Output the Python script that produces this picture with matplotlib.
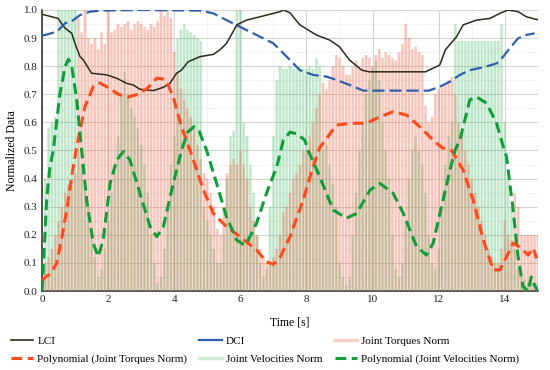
import matplotlib
matplotlib.use("Agg")
import numpy as np
import matplotlib.pyplot as plt
from matplotlib.lines import Line2D
from matplotlib.ticker import MultipleLocator, FormatStrFormatter

plt.rcParams["font.family"] = ["Liberation Serif", "DejaVu Serif"]

# ---- data ----
bar_t = np.round(np.arange(0, 151) * 0.1, 1)

torque_norm = [
    0.05, 0.10, 0.12, 0.15, 0.20, 0.25, 0.30, 0.35, 0.38, 0.40, 0.42,
    0.97, 0.92, 1.00, 0.90, 0.88, 0.90, 0.86, 0.92, 0.88, 1.00,
    0.92, 0.93, 0.95, 0.94, 0.95, 0.96, 0.93, 0.95, 0.96, 0.95,
    0.94, 0.93, 0.95, 0.94, 0.96, 1.00, 0.98, 1.00, 0.97, 0.85,
    0.78, 0.72, 0.68, 0.65, 0.62, 0.58, 0.52, 0.47, 0.42, 0.40,
    0.35, 0.30, 0.22, 0.20, 0.30, 0.42, 0.45, 0.47, 0.45, 0.50,
    0.45, 0.40, 0.30, 0.25, 0.20, 0.15, 0.12, 0.10, 0.10, 0.12,
    0.15, 0.20, 0.28, 0.30, 0.35, 0.40, 0.42, 0.45, 0.50, 0.50,
    0.55, 0.60, 0.65, 0.70, 0.74, 0.72, 0.75, 0.80, 0.84, 0.83,
    0.80, 0.77, 0.77, 0.80, 0.82, 0.80, 0.83, 0.84, 0.83, 0.80,
    0.84, 0.86, 0.83, 0.85, 0.84, 0.83, 0.82, 0.85, 0.88, 0.95,
    0.90, 0.86, 0.87, 0.85, 0.84, 0.66, 0.60, 0.62, 0.70, 0.72,
    0.73, 0.74, 0.75, 0.76, 0.70, 0.60, 0.55, 0.50, 0.45, 0.40,
    0.35, 0.30, 0.25, 0.20, 0.15, 0.12, 0.10, 0.10, 0.15, 0.25,
    0.20, 0.18, 0.35, 0.30, 0.20, 0.20, 0.20, 0.20, 0.20, 0.20,
]

velocity_norm = [
    0.05, 0.40, 0.58, 0.60, 0.62, 1.00, 1.00, 1.00, 1.00, 1.00, 1.00,
    0.50, 0.45, 0.38, 0.30, 0.20, 0.12, 0.05, 0.08, 0.15, 0.25,
    0.35, 0.45, 0.55, 0.70, 0.78, 0.70, 0.65, 0.62, 0.58, 0.52,
    0.45, 0.35, 0.20, 0.10, 0.03, 0.05, 0.15, 0.30, 0.45, 0.55,
    0.90, 0.93, 0.95, 0.93, 0.92, 0.91, 0.90, 0.89, 0.30, 0.25,
    0.20, 0.15, 0.10, 0.10, 0.20, 0.40, 0.55, 0.57, 1.00, 1.00,
    0.60, 0.55, 0.45, 0.35, 0.20, 0.10, 0.05, 0.08, 0.30, 0.55,
    0.75, 0.80, 0.79, 0.79, 0.80, 0.79, 0.79, 0.80, 0.79, 0.79,
    0.80, 0.79, 0.83, 0.80, 0.50, 0.52, 0.45, 0.38, 0.30, 0.10,
    0.05, 0.02, 0.05, 0.20, 0.35, 0.50, 0.60, 0.70, 0.75, 0.80,
    0.82, 0.75, 0.60, 0.50, 0.40, 0.20, 0.08, 0.05, 0.10, 0.25,
    0.40, 0.50, 0.55, 0.50, 0.45, 0.35, 0.20, 0.10, 0.08, 0.15,
    0.30, 0.45, 0.55, 0.60, 0.95, 0.89, 0.89, 0.89, 0.89, 0.89,
    0.89, 0.89, 0.89, 0.89, 0.89, 0.89, 0.89, 0.89, 0.95, 0.60,
    0.40, 0.30, 0.15, 0.08, 0.05, 0.04, 0.03, 0.03, 0.03, 0.03,
]

lci_t = [0, 0.09, 0.49, 0.6, 0.7, 0.9, 1.0, 1.15, 1.25, 1.5, 1.96, 2.26, 2.56, 2.76,
         2.96, 3.37, 3.67, 3.87, 4.07, 4.22, 4.42, 4.78, 5.18, 5.38, 5.58, 5.78, 5.89,
         6.19, 6.8, 7.2, 7.3, 7.5, 7.8, 8.3, 8.7, 9.0, 9.3, 9.67, 9.9, 11.6, 12.03,
         12.2, 12.54, 12.74, 13.14, 13.55, 13.85, 14.1, 14.4, 14.65, 14.9, 15.0]
lci = [0.985, 0.982, 0.97, 0.95, 0.935, 0.917, 0.88, 0.834, 0.822, 0.775, 0.769, 0.757,
       0.739, 0.733, 0.718, 0.713, 0.725, 0.739, 0.775, 0.786, 0.816, 0.834, 0.842,
       0.858, 0.881, 0.923, 0.947, 0.964, 0.982, 0.994, 1.0, 0.99, 0.947, 0.911, 0.893,
       0.869, 0.822, 0.786, 0.78, 0.78, 0.804, 0.858, 0.905, 0.947, 0.964, 0.97, 0.988,
       1.0, 0.994, 0.976, 0.968, 0.965]

dci_t = [0, 0.09, 0.45, 0.7, 0.9, 1.15, 1.45, 1.8, 3.0, 4.78, 5.18, 5.58, 5.99, 6.49,
         7.0, 7.3, 7.5, 7.8, 8.2, 8.6, 8.91, 9.31, 9.72, 11.7, 12.03, 12.34, 12.64,
         12.94, 13.35, 13.75, 13.95, 14.15, 14.4, 14.65, 14.9]
dci = [0.91, 0.911, 0.923, 0.953, 0.96, 0.982, 0.994, 0.998, 1.0, 0.998, 0.988, 0.964,
       0.94, 0.911, 0.881, 0.846, 0.822, 0.786, 0.769, 0.763, 0.751, 0.733, 0.713,
       0.713, 0.727, 0.745, 0.769, 0.786, 0.796, 0.81, 0.834, 0.864, 0.899, 0.911, 0.917]

poly_tq_t = [0, 0.1, 0.24, 0.44, 0.6, 0.75, 0.9, 1.05, 1.3, 1.55, 1.75, 2.06, 2.3, 2.6,
             2.9, 3.17, 3.47, 3.65, 3.77, 3.97, 4.22, 4.48, 4.88, 5.18, 5.58, 5.99, 6.49,
             6.79, 7.0, 7.2, 7.5, 7.9, 8.2, 8.4, 8.9, 9.3, 9.82, 10.22, 10.62, 11.03,
             11.43, 11.83, 12.1, 12.39, 12.74, 13.04, 13.35, 13.65, 13.85, 14.05, 14.25,
             14.4, 14.55, 14.7, 14.86, 14.96]
poly_tq = [0.035, 0.05, 0.06, 0.098, 0.19, 0.29, 0.41, 0.515, 0.656, 0.727, 0.74, 0.72,
           0.70, 0.69, 0.70, 0.72, 0.757, 0.755, 0.745, 0.69, 0.584, 0.50, 0.36, 0.276,
           0.229, 0.193, 0.146, 0.104, 0.095, 0.12, 0.193, 0.324, 0.442, 0.51, 0.59,
           0.597, 0.597, 0.62, 0.638, 0.626, 0.584, 0.537, 0.51, 0.50, 0.43, 0.324,
           0.181, 0.075, 0.075, 0.122, 0.17, 0.16, 0.146, 0.128, 0.152, 0.116]

poly_vel_t = [0, 0.09, 0.14, 0.24, 0.34, 0.54, 0.7, 0.8, 0.9, 1.05, 1.2, 1.35, 1.55, 1.7,
              1.85, 2.06, 2.26, 2.46, 2.66, 2.96, 3.27, 3.47, 3.67, 3.97, 4.22, 4.4, 4.6,
              4.75, 4.98, 5.28, 5.58, 5.89, 6.1, 6.19, 6.49, 6.79, 7.1, 7.3, 7.5, 7.7,
              7.95, 8.05, 8.4, 8.81, 9.21, 9.52, 9.92, 10.22, 10.62, 10.93, 11.33, 11.63,
              11.83, 12.13, 12.34, 12.49, 12.64, 12.94, 13.14, 13.45, 13.75, 13.95, 14.05,
              14.25, 14.4, 14.55, 14.7, 14.8, 14.9, 15.0]
poly_vel = [0.0, 0.205, 0.324, 0.442, 0.50, 0.70, 0.80, 0.825, 0.80, 0.68, 0.50, 0.324,
            0.17, 0.122, 0.181, 0.383, 0.466, 0.496, 0.466, 0.348, 0.229, 0.193, 0.229,
            0.383, 0.50, 0.565, 0.585, 0.57, 0.50, 0.383, 0.264, 0.181, 0.165, 0.17,
            0.241, 0.348, 0.442, 0.537, 0.565, 0.56, 0.537, 0.50, 0.407, 0.288, 0.259,
            0.276, 0.359, 0.383, 0.348, 0.276, 0.158, 0.128, 0.17, 0.324, 0.43, 0.50,
            0.537, 0.68, 0.691, 0.668, 0.597, 0.514, 0.478, 0.288, 0.122, 0.015, 0.0,
            0.05, 0.02, 0.0]

# ---- colours ----
c_lci = "#2b2a1c"
c_dci = "#2f5fad"
c_tq_bar = "#f1745a"
c_vel_bar = "#66c782"
c_poly_tq = "#ff4a1a"
c_poly_vel = "#0f9e3a"

fig = plt.figure(figsize=(5.5, 3.7), dpi=100)
ax = fig.add_axes([0.0764, 0.2135, 0.9016, 0.7595])

# columns: faint continuous body + striped bars on top
ax.fill_between(bar_t, velocity_norm, step="mid", color=c_vel_bar, alpha=0.15, lw=0, zorder=2)
ax.fill_between(bar_t, torque_norm, step="mid", color=c_tq_bar, alpha=0.15, lw=0, zorder=2)
ax.bar(bar_t, velocity_norm, width=0.062, color=c_vel_bar, alpha=0.32, linewidth=0,
       zorder=3, snap=False)
ax.bar(bar_t, torque_norm, width=0.062, color=c_tq_bar, alpha=0.32, linewidth=0,
       zorder=3, snap=False)

ax.plot(lci_t, lci, color=c_lci, lw=1.1, zorder=5)
ax.plot(dci_t, dci, color=c_dci, lw=1.6, dashes=(5.5, 2.2), zorder=5)
ax.plot(poly_tq_t, poly_tq, color=c_poly_tq, lw=2.2, dashes=(3.5, 1.8), zorder=6)
ax.plot(poly_vel_t, poly_vel, color=c_poly_vel, lw=2.2, dashes=(3.5, 1.8), zorder=6)

ax.set_xlim(0, 15)
ax.set_ylim(0, 1.0)
ax.xaxis.set_major_locator(MultipleLocator(2))
ax.xaxis.set_minor_locator(MultipleLocator(1))
ax.yaxis.set_major_locator(MultipleLocator(0.1))
ax.yaxis.set_minor_locator(MultipleLocator(0.05))
ax.yaxis.set_major_formatter(FormatStrFormatter("%.1f"))
ax.grid(which="major", color="#d4d4d4", lw=0.8, zorder=0)
ax.grid(which="minor", color="#dedede", lw=0.6, ls=":", zorder=0)
ax.set_axisbelow(True)

for s in ("top", "right"):
    ax.spines[s].set_visible(False)
for s in ("left", "bottom"):
    ax.spines[s].set_color("#3a3a3a")
    ax.spines[s].set_linewidth(1.2)
ax.tick_params(which="both", length=0, labelsize=8, colors="#222222", pad=3)

ax.set_xlabel("Time [s]", fontsize=8.5, labelpad=9)
ax.set_ylabel("Normalized Data", fontsize=8.5, labelpad=4)

handles = [
    Line2D([0], [0], color=c_lci, lw=1.2, label="LCI"),
    Line2D([0], [0], color=c_poly_tq, lw=2.2, dashes=(3.5, 1.8), label="Polynomial (Joint Torques Norm)"),
    Line2D([0], [0], color=c_dci, lw=1.6, label="DCI"),
    Line2D([0], [0], color="#cdebd5", lw=2.5, label="Joint Velocities Norm"),
    Line2D([0], [0], color="#f9cfc5", lw=2.5, label="Joint Torques Norm"),
    Line2D([0], [0], color=c_poly_vel, lw=2.2, dashes=(3.5, 1.8), label="Polynomial (Joint Velocities Norm)"),
]
fig.legend(handles=handles, loc="lower left", bbox_to_anchor=(0.005, -0.005), ncol=3,
           frameon=False, fontsize=8, handlelength=2.0, handletextpad=0.4,
           columnspacing=1.1, labelspacing=0.75, borderaxespad=0.3)

fig.savefig("out.png", dpi=100)
